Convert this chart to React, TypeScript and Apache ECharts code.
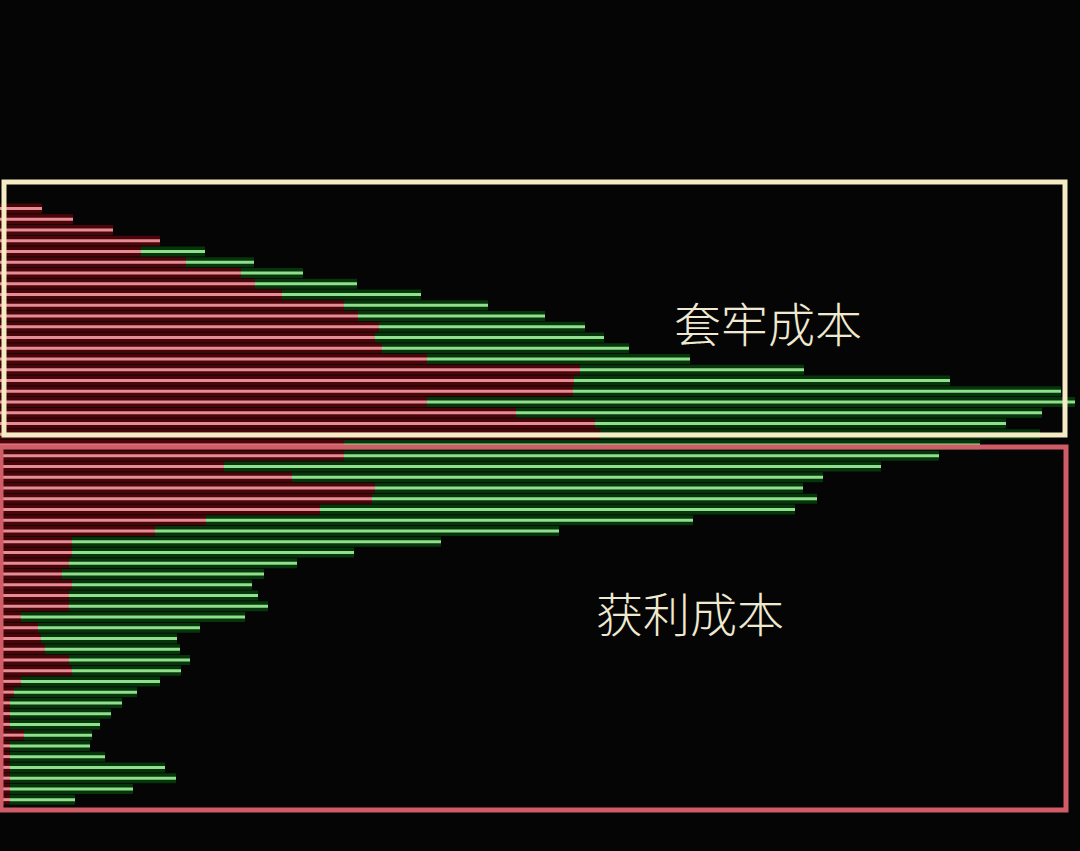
import React, { useEffect, useRef } from "react";
import * as echarts from "echarts";

// Chip distribution: each price row has a red (profit-side) segment followed by a green segment.
const redLen = [
  42, 73, 113, 160, 141, 186, 241, 255, 282, 344, 358, 379, 375, 382, 427, 580, 574, 573, 427, 516, 595, 600,
  344, 344, 224, 292, 375, 372, 320, 206, 155, 72, 72, 69, 62, 72, 69, 69, 21, 38, 41, 45, 69, 72, 21, 14,
  10, 10, 10, 24, 10, 10, 10, 10, 10, 10,
];
const greenLen = [
  0, 0, 0, 0, 64, 68, 62, 102, 139, 144, 187, 206, 229, 247, 263, 224, 376, 488, 648, 526, 411, 440,
  636, 595, 657, 531, 428, 445, 475, 487, 404, 369, 282, 228, 202, 180, 189, 199, 224, 162, 136, 135, 121,
  109, 139, 123, 112, 101, 90, 68, 80, 95, 155, 166, 123, 65,
];
const rowLabels = redLen.map((_, i) => `P${i + 1}`);
const labelTop = "套牢成本";
const labelBottom = "获利成本";

export default function App() {
  const ref = useRef<HTMLDivElement>(null);
  useEffect(() => {
    document.body.style.margin = "0";
    document.body.style.background = "#050505";
    const chart = echarts.init(ref.current!, null, { renderer: "svg" });
    const yCat = {
      type: "category" as const,
      data: rowLabels,
      inverse: true,
      show: false,
    };
    chart.setOption({
      animation: false,
      backgroundColor: "#050505",
      grid: { left: 0, right: 0, top: 203, height: 602 },
      xAxis: { type: "value", min: 0, max: 1080, show: false },
      yAxis: [yCat, { ...yCat }],
      series: [
        {
          type: "bar",
          yAxisIndex: 1,
          stack: "bg",
          data: redLen,
          barWidth: 10,
          itemStyle: { color: "#4a0508" },
          silent: true,
        },
        {
          type: "bar",
          yAxisIndex: 1,
          stack: "bg",
          data: greenLen,
          barWidth: 10,
          itemStyle: { color: "#07350b" },
          silent: true,
        },
        {
          type: "bar",
          yAxisIndex: 0,
          stack: "fg",
          data: redLen,
          barWidth: 3,
          itemStyle: { color: "#e48d96" },
        },
        {
          type: "bar",
          yAxisIndex: 0,
          stack: "fg",
          data: greenLen,
          barWidth: 3,
          itemStyle: { color: "#8fdf8c" },
        },
      ],
      graphic: [
        {
          type: "rect",
          shape: { x: 4, y: 182, width: 1061, height: 253 },
          style: { fill: "none", stroke: "#f3ecc4", lineWidth: 5 },
          z: 100,
        },
        {
          type: "rect",
          shape: { x: 1, y: 447, width: 1065, height: 363 },
          style: { fill: "none", stroke: "#cf5c66", lineWidth: 5 },
          z: 100,
        },
        {
          type: "text",
          x: 768,
          y: 321,
          style: {
            text: labelTop,
            fill: "#efe9d2",
            font: '300 47px "Noto Sans CJK SC"',
            textAlign: "center",
            textVerticalAlign: "middle",
          },
          z: 101,
        },
        {
          type: "text",
          x: 690,
          y: 611,
          style: {
            text: labelBottom,
            fill: "#efe9d2",
            font: '300 47px "Noto Sans CJK SC"',
            textAlign: "center",
            textVerticalAlign: "middle",
          },
          z: 101,
        },
      ],
    });
    return () => chart.dispose();
  }, []);
  return (
    <div
      ref={ref}
      style={{ position: "fixed", left: 0, top: 0, width: 1080, height: 851 }}
    />
  );
}
